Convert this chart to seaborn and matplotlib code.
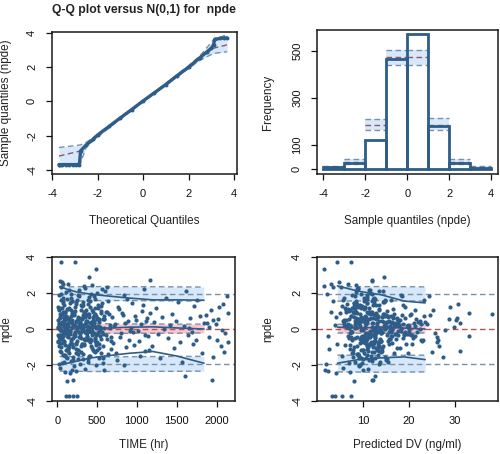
import numpy as np
import pandas as pd
import matplotlib
matplotlib.use('Agg')
from matplotlib import pyplot as plt
import seaborn as sns

sns.set_style('ticks')
plt.rcParams['font.family'] = ['Liberation Sans', 'DejaVu Sans']
plt.rcParams['axes.unicode_minus'] = False  # R style hyphen minus

# ---------------- data ----------------
# Q-Q plot: observed sample quantiles and simulated prediction band
qq_theo = [-3.7, -3.55, -3.4, -3.25, -3.1, -2.95, -2.8, -2.75, -2.5, -2.2, -2.0, -1.5, -1.0, -0.5,
           0.0, 0.5, 1.0, 1.5, 2.0, 2.5, 2.8, 3.0, 3.1, 3.15, 3.4, 3.55, 3.7]
qq_obs = [-3.7, -3.7, -3.7, -3.7, -3.7, -3.7, -3.7, -2.9, -2.55, -2.22, -1.97, -1.47, -0.97, -0.48,
          0.02, 0.5, 0.98, 1.5, 1.99, 2.55, 2.88, 3.1, 3.3, 3.62, 3.68, 3.7, 3.7]
qq_band_x = [-3.7, -2.75, -2.5, -2.0, -1.0, 0.0, 1.0, 2.0, 2.5, 3.1, 3.7]
qq_lo = [-3.85, -3.6, -2.68, -2.08, -1.04, -0.04, 0.95, 1.92, 2.4, 2.8, 2.9]
qq_med = [-3.2, -2.9, -2.55, -2.0, -1.0, 0.0, 1.0, 2.0, 2.5, 3.1, 3.3]
qq_hi = [-2.7, -2.55, -2.4, -1.93, -0.96, 0.04, 1.05, 2.08, 2.65, 3.6, 3.9]

# histogram of npde
hist_edges = [-4, -3, -2, -1, 0, 1, 2, 3, 4]
hist_mid = [-3.5, -2.5, -1.5, -0.5, 0.5, 1.5, 2.5, 3.5]
hist_counts = [5, 24, 122, 465, 570, 179, 24, 4]
hist_lo = [2, 20, 165, 438, 438, 162, 20, 2]
hist_med = [5, 29, 187, 473, 473, 183, 29, 5]
hist_hi = [9, 42, 211, 504, 504, 215, 42, 9]

# individual npde with time and population prediction
obs_npde = [
    0.12, -0.45, 1.03, -1.21, 0.67, 2.31, -0.08, -1.87, 0.39, 1.56,
    -0.72, 0.05, 1.88, -0.33, -2.14, 0.81, 0.27, -1.02, 2.62, -0.58,
    0.94, -1.45, 0.18, 1.31, -0.21, -0.89, 0.55, 2.05, -1.63, 0.02,
    -0.15, 1.72, -0.64, 0.43, -2.38, 0.71, -1.17, 0.29, 1.12, -0.41,
    2.48, -0.97, 0.61, -0.27, 1.47, -1.76, 0.09, 0.88, -0.52, -2.05,
    0.36, 1.19, -1.33, -0.06, 0.74, 1.95, -0.81, 0.48, -1.54, 0.21,
    -0.36, 0.99, 0.14, -1.09, 1.63, -0.69, 0.57, -0.19, 2.18, -1.92,
    0.83, -0.29, 1.38, -0.77, 0.04, -1.38, 0.66, 1.81, -0.47, 0.31,
    -0.92, 0.19, 1.26, -0.11, -1.69, 0.92, -0.55, 2.29, 0.45, -0.24,
    1.07, -1.26, 0.59, -0.01, 1.51, -0.84, 0.26, -2.21, 0.77, -0.38,
    0.16, 1.41, -0.61, 0.69, -1.49, 0.33, 1.97, -0.16, -1.04, 0.51,
    -0.43, 0.86, -1.81, 0.11, 1.24, -0.74, 0.41, 2.44, -0.31, 0.96,
    -1.15, 0.24, 1.66, -0.57, 0.07, -1.98, 0.63, 1.15, -0.26, -0.86,
    0.47, 1.83, -0.49, -1.29, 0.72, 0.13, -0.71, 1.36, -1.59, 0.37,
    -0.05, 1.02, -0.95, 0.58, 2.13, -0.35, -1.41, 0.82, 0.22, -0.66,
    1.29, -0.17, 0.53, -2.27, 0.93, -0.53, 1.58, 0.03, -1.11, 0.65,
    -0.79, 0.28, -1.71, 1.09, -0.22, 0.76, 1.91, -0.98, 0.42, -0.12,
    0.17, -1.36, 1.21, -0.46, 0.89, -2.02, 0.34, 1.69, -0.63, 0.08,
    1.45, -0.87, 0.52, -0.09, -1.52, 0.99, 2.24, -0.32, 0.61, -1.19,
    -0.18, 0.73, 2.75, -0.69, 0.27, 1.33, -1.23, 0.46, -0.41, 0.91,
    -0.96, 0.38, 1.16, -0.28, -1.62, 0.67, 0.01, 1.74, -0.51, 0.25,
    0.84, -1.07, 0.44, 1.52, -0.74, -1.86, 0.15, 2.09, -0.36, 0.59,
    -0.14, 1.27, -0.59, -2.6, 0.71, -1.31, 0.32, 1.62, -0.82, 0.06,
    0.78, -0.42, 1.05, -1.58, 0.29, 0.55, -0.93, 1.37, -0.23, 0.88,
    -2.85, 0.35, -0.62, 1.85, 0.12, -1.27, 0.51, -0.08, 1.21, -0.72,
    3.7, 3.7, 3.32, -3.7, -3.7, -3.7, -3.7, -2.9, -2.85, 2.88,
    2.65, 2.52, -2.45, -2.3, 2.41, 0.84, -0.37, 0.6, -1.22, 2.35,
    -1.95, 1.92, -0.4, 0.93, -1.1, 1.58, -2.31, 0.2, -0.85, 0.66,
    0.31, -0.53, 1.14, -1.44, 0.58, -0.2, 1.7, -0.98, 0.44, -1.67,
    -0.3, 0.79, -0.12, 1.03, -0.67, 0.15, -1.35, 0.54, 0.97, -0.44,
    1.22, -0.75, 0.35, -1.84, 0.68, -0.03, 2.16, -0.57, 0.19, 1.49,
    -1.18, 0.41, -0.02, 0.87, -0.48, 1.6, -1.5, 0.1, 0.72, -0.9,
    0.52, -0.33, 0.18, -0.94, 1.12, -0.07, 0.63, -1.28, 0.29, 0.85,
    -0.58, 0.37, 1.44, -0.19, -0.71, 0.94, 0.06, -1.53, 0.71, -0.26,
    1.68, -0.44, 0.23, -1.01, 0.48, -0.12, 1.03, -0.66, 0.34, -1.71,
    0.15, 0.77, -0.39, 1.25, -0.86, 0.41, -0.04, 1.87, -1.14, 0.62,
    -0.47, 0.09, 1.34, -0.81, 0.55, -1.39, 0.21, 0.96, -0.17, -0.62,
    1.06, -0.23, 0.43, -1.66, 0.81, 0.02, -0.53, 1.55, -0.97, 0.28,
    -0.09, 0.69, -1.22, 0.38, 1.19, -0.36, -0.78, 0.57, 2.02, -0.14,
    0.49, -1.05, 0.13, 0.89, -0.56, 1.42, -0.29, -1.89, 0.74, 0.04,
    -0.68, 0.26, 1.61, -0.31, 0.66, -1.47, 0.11, 1.09, -0.84, 0.45,
    0.97, -0.18, -1.32, 0.58, 0.19, -0.49, 1.31, -0.9, 0.39, -0.06,
    1.78, -0.63, 0.32, -0.24, 0.86, -1.17, 0.53, -0.41, 2.21, -1.6,
    0.08, 1.17, -0.76, 0.35, -0.13, 0.7, -1.06, 0.51, 1.53, -0.35,
]
obs_time = [
    12, 18, 24, 30, 36, 42, 48, 54, 60, 66,
    8, 15, 22, 29, 35, 41, 47, 53, 59, 65,
    72, 78, 84, 90, 96, 102, 108, 114, 120, 126,
    71, 77, 83, 89, 95, 101, 107, 113, 119, 125,
    132, 140, 148, 156, 164, 172, 180, 188, 196, 204,
    135, 143, 151, 159, 167, 175, 183, 191, 199, 207,
    212, 220, 228, 236, 244, 252, 260, 268, 276, 284,
    215, 223, 231, 239, 247, 255, 263, 271, 279, 287,
    292, 300, 308, 316, 324, 332, 340, 348, 356, 364,
    296, 304, 312, 320, 328, 336, 344, 352, 360, 368,
    372, 380, 388, 396, 404, 412, 420, 428, 436, 444,
    376, 384, 392, 400, 408, 416, 424, 432, 440, 448,
    452, 460, 468, 476, 484, 492, 500, 508, 516, 524,
    456, 464, 472, 480, 488, 496, 504, 512, 520, 528,
    536, 552, 568, 584, 600, 616, 632, 648, 664, 680,
    544, 560, 576, 592, 608, 624, 640, 656, 672, 688,
    700, 724, 748, 772, 796, 820, 844, 868, 892, 916,
    712, 736, 760, 784, 808, 832, 856, 880, 904, 928,
    940, 964, 988, 1012, 1036, 1060, 1084, 1108, 1132, 1156,
    952, 976, 1160, 1024, 1048, 1072, 1096, 1120, 1144, 1168,
    1190, 1215, 1240, 1265, 1290, 1315, 1340, 1365, 1390, 1415,
    1440, 1465, 1490, 1515, 1540, 1565, 1590, 1615, 1640, 1665,
    1690, 1715, 1740, 1600, 1790, 1815, 1840, 1760, 1700, 1655,
    1870, 1900, 1930, 1960, 1990, 2020, 2050, 2080, 2110, 2140,
    1940, 1880, 2000, 2130, 1910, 2100, 1960, 2070, 2030, 2150,
    50, 220, 490, 110, 150, 200, 250, 120, 200, 400,
    30, 75, 160, 180, 330, 40, 55, 90, 130, 620,
    20, 45, 70, 100, 140, 190, 230, 270, 310, 350,
    25, 38, 62, 85, 110, 145, 170, 195, 240, 265,
    280, 320, 390, 430, 470, 510, 550, 590, 630, 670,
    14, 28, 52, 80, 104, 128, 152, 176, 208, 232,
    256, 288, 312, 344, 368, 392, 416, 440, 464, 488,
    5, 10, 16, 21, 26, 33, 39, 44, 51, 57,
    62, 68, 74, 81, 87, 93, 99, 105, 111, 117,
    123, 129, 137, 145, 153, 161, 169, 177, 185, 193,
    201, 209, 217, 225, 233, 241, 249, 257, 265, 273,
    281, 289, 297, 305, 313, 321, 329, 337, 345, 353,
    361, 369, 377, 385, 393, 401, 409, 417, 425, 433,
    441, 449, 457, 465, 473, 481, 489, 497, 505, 513,
    521, 529, 537, 545, 553, 561, 569, 577, 585, 593,
    9, 27, 46, 63, 82, 98, 116, 134, 157, 178,
    198, 218, 238, 258, 278, 298, 318, 338, 358, 378,
    398, 418, 438, 458, 478, 498, 518, 538, 558, 578,
    17, 34, 58, 76, 92, 112, 138, 163, 186, 213,
]
obs_pred = [
    8.2, 11.5, 6.4, 14.1, 9.7, 5.3, 12.8, 7.1, 16.4, 10.2,
    13.3, 6.9, 18.2, 10.8, 5.6, 20.4, 9.1, 12.2, 4.9, 15.7,
    7.8, 11.0, 21.3, 9.4, 13.9, 6.2, 17.5, 8.6, 10.6, 14.8,
    19.1, 5.9, 12.5, 8.8, 7.3, 16.0, 10.1, 22.7, 13.6, 9.9,
    6.7, 14.4, 11.8, 18.9, 8.1, 12.0, 15.2, 5.1, 20.9, 9.2,
    10.4, 7.6, 16.8, 13.1, 23.2, 9.6, 11.3, 6.0, 14.9, 17.8,
    12.7, 8.4, 19.6, 10.9, 5.8, 15.5, 7.0, 21.8, 11.6, 13.4,
    9.3, 17.1, 6.6, 12.3, 14.6, 8.9, 10.7, 18.5, 7.4, 16.2,
    11.2, 20.1, 8.0, 13.8, 10.0, 6.3, 15.9, 9.0, 22.3, 12.9,
    7.2, 14.0, 17.3, 9.8, 12.4, 19.4, 8.3, 11.1, 15.0, 6.8,
    13.0, 8.7, 10.3, 16.6, 5.5, 21.0, 11.9, 7.7, 14.2, 18.0,
    9.5, 12.1, 15.4, 6.5, 10.5, 13.7, 23.5, 8.5, 17.6, 11.4,
    7.9, 19.8, 12.6, 10.0, 14.7, 9.1, 16.5, 6.1, 11.7, 20.6,
    13.5, 8.2, 18.7, 11.9, 7.5, 15.1, 10.2, 12.8, 9.7, 22.0,
    16.3, 6.9, 12.2, 9.0, 14.3, 19.0, 8.8, 11.5, 17.2, 10.7,
    5.4, 13.1, 21.6, 10.1, 8.6, 15.8, 12.0, 18.3, 7.3, 14.1,
    9.4, 17.4, 11.3, 6.7, 13.9, 20.2, 10.8, 8.1, 15.6, 12.5,
    14.5, 7.6, 19.2, 10.4, 12.9, 9.3, 16.9, 11.0, 23.0, 8.4,
    10.9, 13.2, 6.4, 17.7, 11.8, 15.3, 8.9, 20.7, 12.3, 9.6,
    16.1, 7.4, 12.0, 14.0, 10.6, 18.6, 13.6, 5.8, 21.2, 11.1,
    8.7, 15.2, 11.4, 19.5, 9.2, 13.3, 22.4, 10.3, 7.0, 16.7,
    12.8, 18.1, 9.9, 14.6, 11.7, 8.3, 17.0, 13.4, 20.5, 10.0,
    15.7, 9.8, 22.6, 12.6, 10.4, 19.7, 13.0, 23.3, 11.6, 16.4,
    24.5, 26.1, 25.2, 27.3, 24.0, 28.6, 26.6, 30.6, 25.6, 33.0,
    12.3, 31.0, 26.4, 24.3, 29.8, 25.0, 30.3, 27.8, 28.9, 26.0,
    7.5, 4.5, 1.5, 3.3, 4.0, 5.5, 7.5, 8.0, 12.0, 14.5,
    12.0, 3.0, 4.2, 1.8, 1.6, 38.0, 33.0, 30.5, 31.0, 3.5,
    2.0, 2.2, 2.5, 3.1, 2.7, 3.6, 2.4, 3.9, 4.4, 4.1,
    6.0, 7.7, 8.3, 9.0, 10.1, 11.2, 12.4, 13.5, 14.1, 15.3,
    16.9, 18.4, 19.9, 21.4, 22.9, 6.3, 7.9, 9.5, 11.0, 12.6,
    8.9, 10.5, 12.2, 13.8, 15.5, 9.6, 11.4, 17.1, 5.9, 14.4,
    13.2, 10.8, 20.0, 8.0, 12.7, 16.0, 9.2, 11.9, 14.8, 7.3,
    9.1, 11.8, 7.4, 13.6, 10.3, 15.8, 8.6, 12.5, 6.8, 14.3,
    10.9, 17.6, 8.1, 12.9, 9.5, 11.3, 16.1, 7.9, 13.2, 10.4,
    12.1, 8.8, 14.7, 11.1, 9.8, 18.3, 7.1, 13.9, 10.7, 15.0,
    9.3, 12.7, 16.4, 8.4, 11.6, 14.5, 10.0, 7.6, 13.1, 19.2,
    11.4, 8.5, 12.3, 15.6, 10.2, 9.0, 17.9, 12.0, 14.0, 7.7,
    13.4, 10.6, 8.2, 11.9, 16.8, 12.6, 9.4, 14.9, 10.9, 18.7,
    7.5, 13.0, 11.2, 15.3, 9.7, 12.2, 16.3, 8.9, 11.5, 14.2,
    10.1, 17.4, 12.8, 8.7, 13.7, 11.0, 20.0, 9.9, 15.5, 12.4,
    12.6, 9.2, 14.8, 11.7, 8.0, 13.3, 10.5, 16.6, 12.1, 9.6,
    11.8, 14.1, 10.2, 12.9, 15.9, 8.3, 13.5, 11.0, 9.1, 12.3,
    10.8, 13.8, 12.0, 7.3, 14.6, 10.0, 11.3, 16.2, 8.8, 12.7,
    13.7, 10.4, 12.4, 9.0, 11.5, 14.4, 12.9, 10.6, 8.5, 15.2,
]

# prediction intervals / observed percentiles versus time
pi_time = [30, 130, 250, 400, 600, 900, 1200, 1500, 1842]
time_up_lo = [1.55, 1.55, 1.56, 1.57, 1.58, 1.58, 1.57, 1.56, 1.55]
time_up_hi = [2.33, 2.34, 2.35, 2.35, 2.36, 2.35, 2.35, 2.34, 2.33]
time_md_lo = [-0.22, -0.22, -0.23, -0.23, -0.24, -0.24, -0.23, -0.23, -0.22]
time_md_hi = [0.27, 0.28, 0.28, 0.29, 0.29, 0.28, 0.28, 0.27, 0.27]
time_lw_lo = [-2.34, -2.35, -2.35, -2.36, -2.36, -2.36, -2.35, -2.35, -2.34]
time_lw_hi = [-1.52, -1.53, -1.54, -1.55, -1.55, -1.54, -1.53, -1.52, -1.52]
time_obs_up = [2.35, 2.2, 2.05, 1.95, 1.85, 1.72, 1.62, 1.62, 1.6]
time_obs_md = [0.05, 0.08, 0.1, 0.06, 0.05, 0.1, 0.12, 0.06, 0.0]
time_obs_lw = [-1.95, -1.9, -1.78, -1.62, -1.5, -1.35, -1.25, -1.5, -1.9]

# prediction intervals / observed percentiles versus predicted DV
pi_pred = [4.5, 9.0, 14.0, 19.0, 23.5]
pred_up_lo = [1.55, 1.56, 1.57, 1.56, 1.55]
pred_up_hi = [2.34, 2.35, 2.36, 2.35, 2.34]
pred_md_lo = [-0.22, -0.23, -0.24, -0.23, -0.22]
pred_md_hi = [0.26, 0.27, 0.28, 0.27, 0.26]
pred_lw_lo = [-2.38, -2.39, -2.4, -2.39, -2.38]
pred_lw_hi = [-1.45, -1.46, -1.47, -1.46, -1.45]
pred_obs_up = [2.4, 2.1, 1.9, 1.55, 1.45]
pred_obs_md = [0.1, 0.05, 0.1, 0.05, 0.0]
pred_obs_lw = [-1.9, -1.7, -1.6, -1.55, -1.7]

# ---------------- style ----------------
pt_col = '#2D5D88'
band_col = '#D6E8F9'
pink_col = '#F9C6CF'
dash_col = '#7890A8'
red_col = '#C0504D'
txt_col = '#222222'
fs = 8.4


def style_axes(ax, xlabel, ylabel, ylabelpad=11, xlabelpad=12):
    for s in ax.spines.values():
        s.set_visible(True)
        s.set_color('#1A1A1A')
        s.set_linewidth(1.1)
    ax.tick_params(direction='out', length=4.5, width=0.9, labelsize=8, colors='#111111', pad=6)
    for lab in ax.get_yticklabels():
        lab.set_rotation(90)
        lab.set_va('center')
    ax.set_xlabel(xlabel, fontsize=fs, color=txt_col, labelpad=xlabelpad)
    ax.set_ylabel(ylabel, fontsize=fs, color=txt_col, labelpad=ylabelpad)


def draw_band(ax, x, lo, hi, color):
    ax.fill_between(x, lo, hi, color=color, lw=0, zorder=1)
    ax.plot(x, lo, color=dash_col, lw=1.0, ls=(0, (4, 2.5)), zorder=1.5)
    ax.plot(x, hi, color=dash_col, lw=1.0, ls=(0, (4, 2.5)), zorder=1.5)


fig = plt.figure(figsize=(5, 4.54), dpi=100)
ax1 = fig.add_axes([0.1034, 0.6167, 0.37, 0.3128])
ax2 = fig.add_axes([0.6334, 0.6167, 0.3626, 0.3172])
ax3 = fig.add_axes([0.1034, 0.1167, 0.3666, 0.3172])
ax4 = fig.add_axes([0.6334, 0.1167, 0.3626, 0.3172])

# --- Q-Q plot
ax1.fill_between(qq_band_x, qq_lo, qq_hi, color=band_col, lw=0, zorder=1)
ax1.plot(qq_band_x, qq_lo, color=dash_col, lw=1.0, ls=(0, (4, 2.5)), zorder=1.5)
ax1.plot(qq_band_x, qq_hi, color=dash_col, lw=1.0, ls=(0, (4, 2.5)), zorder=1.5)
ax1.plot(qq_band_x, qq_med, color='#8A5A6A', lw=1.0, ls=(0, (4, 2.5)), zorder=1.6)
sns.lineplot(x=qq_theo, y=qq_obs, color=pt_col, lw=2.4, sort=False, ax=ax1, zorder=3)
sns.scatterplot(x=qq_theo, y=qq_obs, color=pt_col, s=8, linewidth=0, ax=ax1, zorder=3)
ax1.set_xlim(-4.02, 4.12)
ax1.set_ylim(-4.25, 4.05)
ax1.set_xticks([-4, -2, 0, 2, 4])
ax1.set_yticks([-4, -2, 0, 2, 4])
style_axes(ax1, 'Theoretical Quantiles', 'Sample quantiles (npde)')
ax1.set_title('Q-Q plot versus N(0,1) for  npde', fontsize=8.7, fontweight='bold', color=txt_col, pad=14)

# --- histogram
for i in range(len(hist_mid)):
    x0, x1 = hist_edges[i], hist_edges[i + 1]
    ax2.fill_between([x0, x1], [hist_lo[i]] * 2, [hist_hi[i]] * 2, color=band_col, lw=0, zorder=1)
    ax2.plot([x0, x1], [hist_lo[i]] * 2, color=dash_col, lw=1.0, ls=(0, (4, 2.5)), zorder=1.5)
    ax2.plot([x0, x1], [hist_hi[i]] * 2, color=dash_col, lw=1.0, ls=(0, (4, 2.5)), zorder=1.5)
    ax2.plot([x0, x1], [hist_med[i]] * 2, color='#9A5060', lw=1.0, ls=(0, (4, 2.5)), zorder=1.6)
sns.histplot(x=hist_mid, weights=hist_counts, bins=hist_edges, fill=False, element='bars',
             color=pt_col, linewidth=2.0, ax=ax2, zorder=3)
ax2.set_xlim(-4.32, 4.32)
ax2.set_ylim(-23, 588)
ax2.set_xticks([-4, -2, 0, 2, 4])
ax2.set_yticks([0, 100, 300, 500])
style_axes(ax2, 'Sample quantiles (npde)', 'Frequency', ylabelpad=13)

# --- npde versus time
draw_band(ax3, pi_time, time_up_lo, time_up_hi, band_col)
draw_band(ax3, pi_time, time_lw_lo, time_lw_hi, band_col)
draw_band(ax3, pi_time, time_md_lo, time_md_hi, pink_col)
for yv in [1.96, -1.96]:
    ax3.axhline(yv, color=dash_col, lw=1.0, ls=(0, (4, 2.5)), zorder=1.5)
ax3.axhline(0, color=red_col, lw=1.0, ls=(0, (4, 2.5)), zorder=1.5)
sns.scatterplot(x=obs_time, y=obs_npde, color=pt_col, s=9, linewidth=0, ax=ax3, zorder=2)
for yy in [time_obs_up, time_obs_md, time_obs_lw]:
    ax3.plot(pi_time, yy, color=pt_col, lw=1.2, zorder=3)
ax3.set_xlim(-70, 2232)
ax3.set_ylim(-4.0, 4.0)
ax3.set_xticks([0, 500, 1000, 1500, 2000])
ax3.set_yticks([-4, -2, 0, 2, 4])
style_axes(ax3, 'TIME (hr)', 'npde', xlabelpad=10)

# --- npde versus predicted DV
draw_band(ax4, pi_pred, pred_up_lo, pred_up_hi, band_col)
draw_band(ax4, pi_pred, pred_lw_lo, pred_lw_hi, band_col)
draw_band(ax4, pi_pred, pred_md_lo, pred_md_hi, pink_col)
for yv in [1.96, -1.96]:
    ax4.axhline(yv, color=dash_col, lw=1.0, ls=(0, (4, 2.5)), zorder=1.5)
ax4.axhline(0, color=red_col, lw=1.0, ls=(0, (4, 2.5)), zorder=1.5)
sns.scatterplot(x=obs_pred, y=obs_npde, color=pt_col, s=9, linewidth=0, ax=ax4, zorder=2)
for yy in [pred_obs_up, pred_obs_md, pred_obs_lw]:
    ax4.plot(pi_pred, yy, color=pt_col, lw=1.2, zorder=3)
ax4.set_xlim(0.0, 39.3)
ax4.set_ylim(-4.0, 4.0)
ax4.set_xticks([10, 20, 30])
ax4.set_yticks([-4, -2, 0, 2, 4])
style_axes(ax4, 'Predicted DV (ng/ml)', 'npde', ylabelpad=13, xlabelpad=10)

plt.savefig('out.png', dpi=100)
